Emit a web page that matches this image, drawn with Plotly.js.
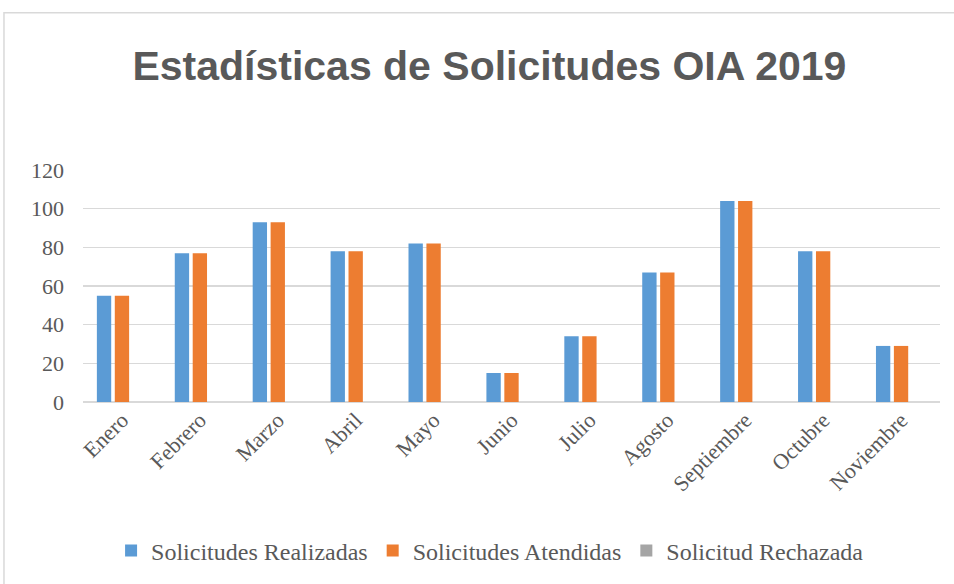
<!DOCTYPE html>
<html>
<head>
<meta charset="utf-8">
<script src="https://cdn.plot.ly/plotly-3.0.1.min.js"></script>
<style>html,body{margin:0;padding:0;background:#fff;}#chart{width:954px;height:584px;}</style>
</head>
<body>
<div id="chart"></div>
<script>
const meses = ["Enero","Febrero","Marzo","Abril","Mayo","Junio","Julio","Agosto","Septiembre","Octubre","Noviembre"];
const realizadas = [55,77,93,78,82,15,34,67,104,78,29];
const atendidas = [55,77,93,78,82,15,34,67,104,78,29];
const rechazadas = [0,0,0,0,0,0,0,0,0,0,0];
const yTicks = [0,20,40,60,80,100,120];

const serif = "Liberation Serif, Times New Roman, serif";
const traces = [
  {type:"bar", name:"Solicitudes Realizadas", x:meses, y:realizadas, marker:{color:"#5b9bd5"}},
  {type:"bar", name:"Solicitudes Atendidas", x:meses, y:atendidas, marker:{color:"#ed7d31"}},
  {type:"bar", name:"Solicitud Rechazada", x:meses, y:rechazadas, marker:{color:"#a5a5a5"}}
];
const layout = {
  width:954, height:584,
  margin:{l:83, r:14, t:170, b:181},
  paper_bgcolor:"#ffffff", plot_bgcolor:"#ffffff",
  title:{text:"Estadísticas de Solicitudes OIA 2019", x:0.513, xanchor:"center", y:0.887, yanchor:"middle", yref:"container",
         font:{family:"Liberation Sans Narrow, Arial Narrow, Liberation Sans, sans-serif", size:41, color:"#595959", weight:"bold"}},
  barmode:"group", bargap:0.31, bargroupgap:0.2,
  xaxis:{tickangle:-45, tickfont:{family:serif, size:22, color:"#595959"}, showline:false, ticks:"", showgrid:false},
  yaxis:{range:[0,120], tickvals:yTicks, ticktext:yTicks.map(String), tickfont:{family:serif, size:22, color:"#595959"},
         showgrid:true, gridcolor:"#d9d9d9", gridwidth:1.5, zeroline:true, zerolinecolor:"#d9d9d9", zerolinewidth:1.5,
         ticks:"", showline:false, ticklabelstandoff:18},
  legend:{orientation:"h", x:0.475, xanchor:"center", y:-0.635, yanchor:"middle",
          font:{family:serif, size:24, color:"#595959"}, itemwidth:30},
  shapes:[{type:"rect", xref:"paper", yref:"paper", x0:-0.0922, x1:1.06, y0:-0.9, y1:1.678,
           line:{color:"#d9d9d9", width:1.5}, fillcolor:"rgba(0,0,0,0)", layer:"below"}],
  showlegend:true
};
Plotly.newPlot("chart", traces, layout, {displayModeBar:false, staticPlot:true});
</script>
</body>
</html>
